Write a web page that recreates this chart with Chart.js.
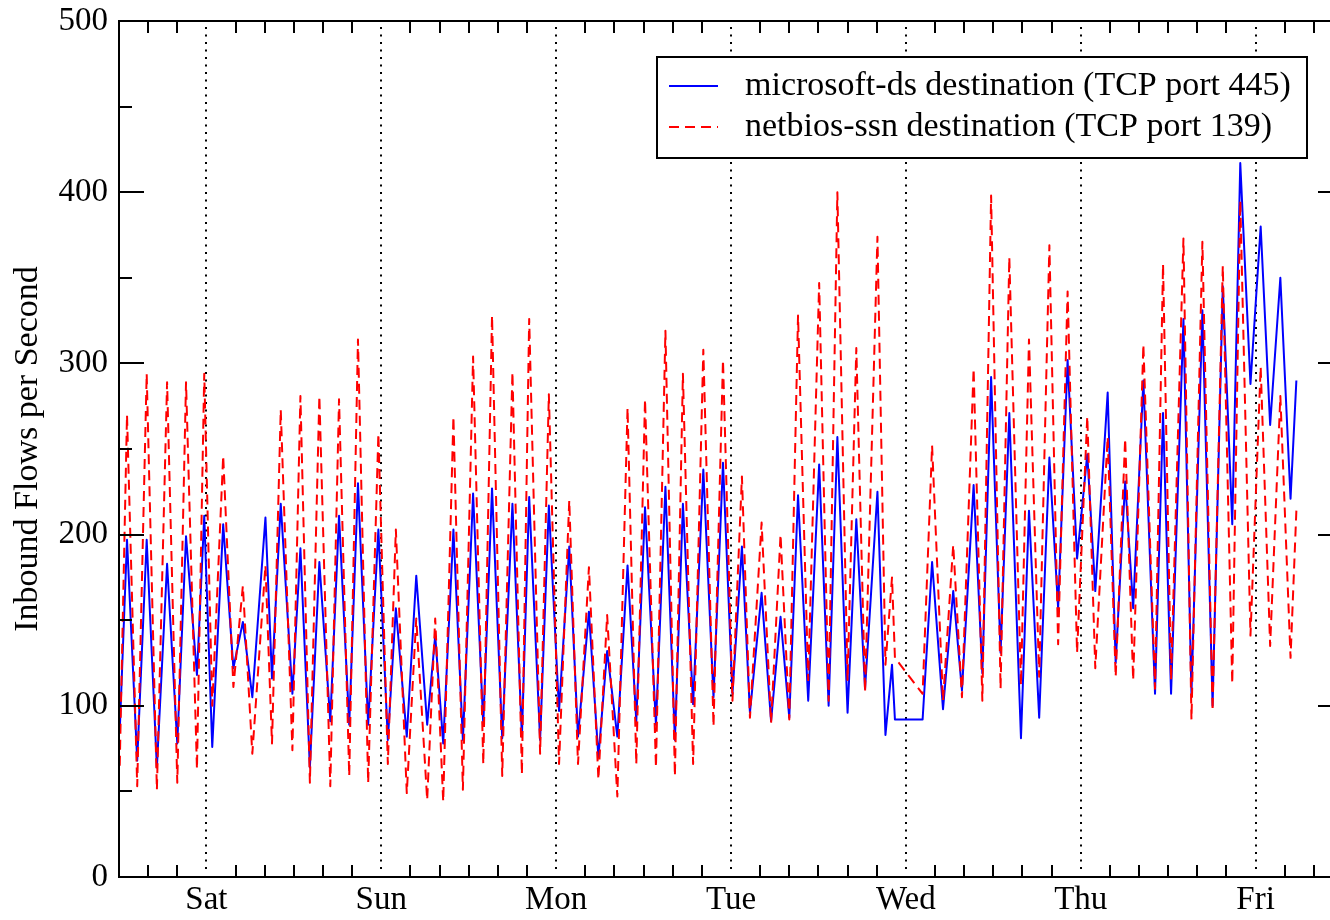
<!DOCTYPE html>
<html>
<head>
<meta charset="utf-8">
<title>Inbound Flows per Second</title>
<script src="https://cdn.jsdelivr.net/npm/chart.js@4.4.1/dist/chart.umd.min.js"></script>
<style>
  html, body { margin: 0; padding: 0; background: #fff; overflow: hidden; }
  #wrap { width: 1330px; height: 920px; overflow: hidden; }
</style>
</head>
<body>
<div id="wrap"><canvas id="flows" width="1360" height="920"></canvas></div>
<script>
// hours since Friday 12:00
const hours = [
  0.1, 1.1, 2.5, 3.8, 5.2, 6.6, 8.0, 9.2, 10.7, 11.7,
  12.8, 14.3, 15.7, 17.0, 18.3, 20.1, 21.0, 22.2, 23.8, 24.9,
  26.2, 27.5, 29.0, 30.2, 31.6, 32.8, 34.2, 35.6, 36.9, 38.0,
  39.5, 40.8, 42.3, 43.4, 44.5, 45.9, 47.2, 48.6, 50.0, 51.2,
  52.6, 54.0, 55.3, 56.3, 57.8, 59.0, 60.4, 61.8, 63.0, 64.5,
  65.8, 67.0, 68.4, 69.8, 71.0, 72.2, 73.7, 75.0, 76.3, 77.4,
  78.8, 80.2, 81.6, 82.9, 84.2, 85.5, 86.6, 88.2, 89.5, 90.8,
  92.0, 93.2, 94.6, 96.1, 97.4, 98.6, 100.0, 101.2, 102.4, 104.1,
  105.2, 106.1, 106.5, 110.3, 111.6, 113.1, 114.5, 115.7, 117.3, 118.5,
  119.7, 121.0, 122.2, 123.8, 124.9, 126.3, 127.7, 128.9, 130.2, 131.5,
  132.9, 134.0, 135.7, 136.8, 138.1, 139.2, 140.6, 142.2, 143.3, 144.4,
  146.1, 147.2, 148.7, 150.1, 151.5, 152.8, 153.9, 155.3, 156.7, 158.0,
  159.4, 160.8, 161.6
];

// microsoft-ds destination (TCP port 445)
const microsoftDs = [
  85, 197, 68, 197, 64, 183, 78, 199, 118, 211,
  76, 206, 122, 149, 105, 210, 116, 218, 107, 192,
  64, 184, 91, 211, 89, 230, 89, 203, 80, 157,
  82, 176, 89, 141, 78, 203, 80, 224, 89, 227,
  81, 218, 82, 222, 80, 217, 97, 193, 82, 155,
  70, 132, 82, 182, 91, 216, 89, 228, 80, 218,
  101, 238, 105, 242, 107, 193, 96, 166, 91, 152,
  93, 223, 103, 241, 100, 257, 96, 209, 110, 225,
  83, 124, 92, 92, 184, 98, 167, 109, 229, 119,
  292, 131, 271, 81, 214, 93, 245, 157, 302, 186,
  247, 167, 283, 125, 231, 157, 290, 107, 271, 107,
  326, 107, 331, 100, 345, 206, 417, 288, 380, 264,
  350, 221, 290
];

// netbios-ssn destination (TCP port 139)
const netbiosSsn = [
  65, 270, 53, 294, 51, 289, 55, 289, 63, 294,
  100, 246, 111, 170, 72, 182, 78, 273, 74, 281,
  55, 281, 53, 279, 59, 314, 55, 259, 66, 203,
  49, 151, 45, 151, 44, 269, 51, 304, 66, 328,
  59, 295, 60, 326, 72, 282, 66, 220, 66, 181,
  57, 153, 47, 274, 66, 279, 64, 319, 59, 294,
  66, 308, 88, 302, 103, 234, 93, 207, 90, 200,
  92, 328, 115, 347, 103, 400, 115, 309, 108, 374,
  124, 175, 128, 107, 252, 103, 194, 105, 297, 103,
  398, 110, 362, 112, 314, 117, 369, 136, 342, 131,
  269, 122, 257, 117, 256, 115, 311, 110, 358, 115,
  373, 92, 371, 97, 357, 113, 395, 141, 298, 135,
  281, 128, 214
];

const dayNames = ["Sat", "Sun", "Mon", "Tue", "Wed", "Thu", "Fri"];
const dayStarts = [12, 36, 60, 84, 108, 132, 156];
const seriesNames = [
  "microsoft-ds destination (TCP port 445)",
  "netbios-ssn destination (TCP port 139)"
];

const serif = "'Liberation Serif', 'Times New Roman', serif";

// frame, inward ticks, dotted day lines and boxed legend
const axesPlugin = {
  id: "axesPlugin",
  beforeDatasetsDraw(chart) {
    const { ctx, chartArea: a, scales: { x } } = chart;
    ctx.save();
    ctx.strokeStyle = "#000";
    ctx.lineWidth = 2;
    ctx.setLineDash([2, 5.5]);
    dayStarts.forEach(h => {
      const px = Math.round(x.getPixelForValue(h));
      ctx.beginPath();
      ctx.moveTo(px, a.top + 6);
      ctx.lineTo(px, a.bottom - 4);
      ctx.stroke();
    });
    ctx.restore();
  },
  afterDatasetsDraw(chart) {
    const { ctx, chartArea: a, scales: { x, y } } = chart;
    ctx.save();
    ctx.strokeStyle = "#000";
    ctx.lineWidth = 2;
    ctx.setLineDash([]);
    ctx.strokeRect(a.left, a.top, a.right - a.left, a.bottom - a.top);

    ctx.beginPath();
    for (let h = 4; h < 168; h += 4) {
      if (dayStarts.includes(h)) continue;
      const px = Math.round(x.getPixelForValue(h));
      ctx.moveTo(px, a.bottom); ctx.lineTo(px, a.bottom - 12);
      ctx.moveTo(px, a.top); ctx.lineTo(px, a.top + 12);
    }
    for (let v = 50; v < 500; v += 50) {
      const py = Math.round(y.getPixelForValue(v));
      const len = v % 100 === 0 ? 25 : 13;
      ctx.moveTo(a.left, py); ctx.lineTo(a.left + len, py);
      ctx.moveTo(a.right, py); ctx.lineTo(a.right - len, py);
    }
    ctx.stroke();

    // legend box
    ctx.fillStyle = "#fff";
    ctx.fillRect(657, 57, 650, 101);
    ctx.strokeRect(657, 57, 650, 101);

    ctx.strokeStyle = "#0000ff";
    ctx.beginPath(); ctx.moveTo(669, 86); ctx.lineTo(718, 86); ctx.stroke();
    ctx.strokeStyle = "#ff0000";
    ctx.setLineDash([10, 6]);
    ctx.beginPath(); ctx.moveTo(669, 127); ctx.lineTo(718, 127); ctx.stroke();
    ctx.setLineDash([]);

    ctx.fillStyle = "#000";
    ctx.font = "34px " + serif;
    ctx.textBaseline = "middle";
    ctx.textAlign = "left";
    ctx.fillText(seriesNames[0], 745, 86);
    ctx.fillText(seriesNames[1], 745, 127);
    ctx.restore();
  }
};

new Chart(document.getElementById("flows"), {
  type: "line",
  data: {
    datasets: [
      {
        label: seriesNames[0],
        data: hours.map((h, i) => ({ x: h, y: microsoftDs[i] })),
        borderColor: "#0000ff",
        borderWidth: 2,
        borderJoinStyle: "round",
        pointRadius: 0,
        order: 1
      },
      {
        label: seriesNames[1],
        data: hours.map((h, i) => ({ x: h, y: netbiosSsn[i] })),
        borderColor: "#ff0000",
        borderWidth: 2,
        borderDash: [10, 6],
        borderJoinStyle: "round",
        pointRadius: 0,
        order: 0
      }
    ]
  },
  options: {
    responsive: false,
    animation: false,
    devicePixelRatio: 1,
    layout: { padding: { top: 21, right: 17, bottom: 0, left: 0 } },
    plugins: { legend: { display: false }, tooltip: { enabled: false } },
    scales: {
      x: {
        type: "linear",
        min: 0,
        max: 168,
        grid: { display: false, drawTicks: false },
        border: { display: false },
        afterBuildTicks: s => { s.ticks = dayStarts.map(v => ({ value: v })); },
        ticks: {
          autoSkip: false,
          maxRotation: 0,
          padding: 4,
          color: "#000",
          font: { family: serif, size: 33 },
          callback: (v, i) => dayNames[i]
        },
        afterFit: s => { s.height = 43; s.paddingLeft = 0; s.paddingRight = 0; }
      },
      y: {
        min: 0,
        max: 500,
        grid: { display: false, drawTicks: false },
        border: { display: false },
        ticks: {
          stepSize: 100,
          padding: 11,
          color: "#000",
          font: { family: serif, size: 33 }
        },
        title: {
          display: true,
          text: "Inbound Flows per Second",
          color: "#000",
          font: { family: serif, size: 34 },
          padding: { top: 8, bottom: 0 }
        },
        afterFit: s => { s.width = 119; s.paddingTop = 0; s.paddingBottom = 0; }
      }
    }
  },
  plugins: [axesPlugin]
});
</script>
</body>
</html>
